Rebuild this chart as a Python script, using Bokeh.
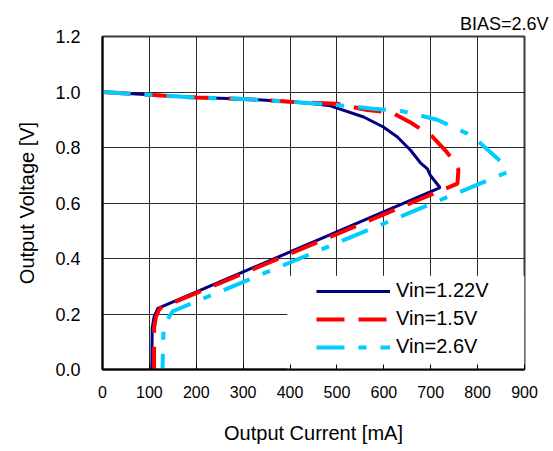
from bokeh.plotting import figure
from bokeh.models import Range1d, FixedTicker, PrintfTickFormatter, Legend, LegendItem, Title, BoxAnnotation
from bokeh.embed import file_html
from bokeh.resources import INLINE

# ---- data ----
i_122 = [0, 100, 200, 300, 400, 450, 486, 557, 599, 629, 657, 678, 693, 699, 720, 118, 110, 106, 105]
v_122 = [1.0, 0.99, 0.98, 0.975, 0.965, 0.958, 0.95, 0.91, 0.874, 0.838, 0.79, 0.745, 0.723, 0.70, 0.655, 0.22, 0.19, 0.15, 0.0]

i_15 = [0, 100, 200, 300, 400, 500, 565, 618, 657, 703, 731, 750, 759, 757, 122, 114, 110, 110]
v_15 = [1.0, 0.99, 0.98, 0.975, 0.965, 0.958, 0.935, 0.925, 0.89, 0.84, 0.79, 0.75, 0.72, 0.67, 0.22, 0.19, 0.15, 0.0]

i_26 = [0, 100, 200, 300, 400, 522, 576, 642, 714, 778, 806, 849, 862, 150, 138, 130, 128]
v_26 = [1.0, 0.99, 0.98, 0.975, 0.965, 0.95, 0.94, 0.93, 0.90, 0.85, 0.815, 0.75, 0.71, 0.21, 0.18, 0.14, 0.0]

series_labels = ["Vin=1.22V", "Vin=1.5V", "Vin=2.6V"]
x_ticks = [0, 100, 200, 300, 400, 500, 600, 700, 800, 900]
y_ticks = [0.0, 0.2, 0.4, 0.6, 0.8, 1.0, 1.2]
title_text = "BIAS=2.6V"
x_label = "Output Current [mA]"
y_label = "Output Voltage [V]"

FONT = "Liberation Sans"

p = figure(width=553, height=451, output_backend="svg", toolbar_location=None,
           x_range=Range1d(0, 900), y_range=Range1d(0, 1.2),
           min_border_left=102, min_border_right=29, min_border_top=36, min_border_bottom=82)

p.background_fill_color = "white"
p.border_fill_color = "white"
p.outline_line_color = "#3a3a3a"
p.outline_line_width = 2

# grid
for g in (p.xgrid, p.ygrid):
    g.grid_line_color = "#2a2a2a"
    g.grid_line_width = 1
    g.level = "image"
p.xgrid.ticker = FixedTicker(ticks=x_ticks)
p.ygrid.ticker = FixedTicker(ticks=y_ticks)

# axes
xa = p.xaxis[0]
ya = p.yaxis[0]
xa.ticker = FixedTicker(ticks=x_ticks)
ya.ticker = FixedTicker(ticks=y_ticks)
ya.formatter = PrintfTickFormatter(format="%.1f")
for a in (xa, ya):
    a.axis_line_color = "black"
    a.axis_line_width = 2
    a.major_tick_line_color = "black"
    a.minor_tick_line_color = None
    a.major_label_text_font = FONT
    a.major_label_text_color = "black"
    a.axis_label_text_font = FONT
    a.axis_label_text_font_style = "normal"
    a.axis_label_text_font_size = "20px"
    a.axis_label_text_color = "black"
xa.major_tick_in = 5
xa.major_tick_out = 0
ya.major_tick_in = 0
ya.major_tick_out = 0
xa.major_label_text_font_size = "16px"
ya.major_label_text_font_size = "18px"
xa.major_label_standoff = 16
ya.major_label_standoff = 22
xa.axis_label = x_label
ya.axis_label = y_label
xa.axis_label_standoff = 21
ya.axis_label_standoff = 14

# white patch behind legend (hides grid)
p.add_layout(BoxAnnotation(left=394, right=900, bottom=0, top=0.338,
                           fill_color="white", fill_alpha=1, line_color=None, level="underlay"))

r1 = p.line(i_122, v_122, line_color="#000080", line_width=3)
r2 = p.line(i_15, v_15, line_color="#FF0000", line_width=4, line_dash="28 14")
r3 = p.line(i_26, v_26, line_color="#00CCFF", line_width=4, line_dash="28 14 8 14")

legend = Legend(items=[LegendItem(label=series_labels[0], renderers=[r1]),
                       LegendItem(label=series_labels[1], renderers=[r2]),
                       LegendItem(label=series_labels[2], renderers=[r3])],
                location=(214, 11), orientation="vertical")
legend.background_fill_alpha = 0
legend.border_line_color = None
legend.padding = 0
legend.margin = 0
legend.spacing = 5
legend.glyph_width = 74
legend.glyph_height = 20
legend.label_height = 20
legend.label_standoff = 6
legend.label_text_font = FONT
legend.label_text_font_size = "20px"
legend.label_text_color = "black"
p.add_layout(legend, "center")

p.add_layout(Title(text=title_text, align="right", offset=-24, standoff=6,
                   text_font=FONT, text_font_size="18px", text_font_style="normal",
                   text_color="black"), "above")

open("out.html", "w").write(file_html(p, INLINE))
